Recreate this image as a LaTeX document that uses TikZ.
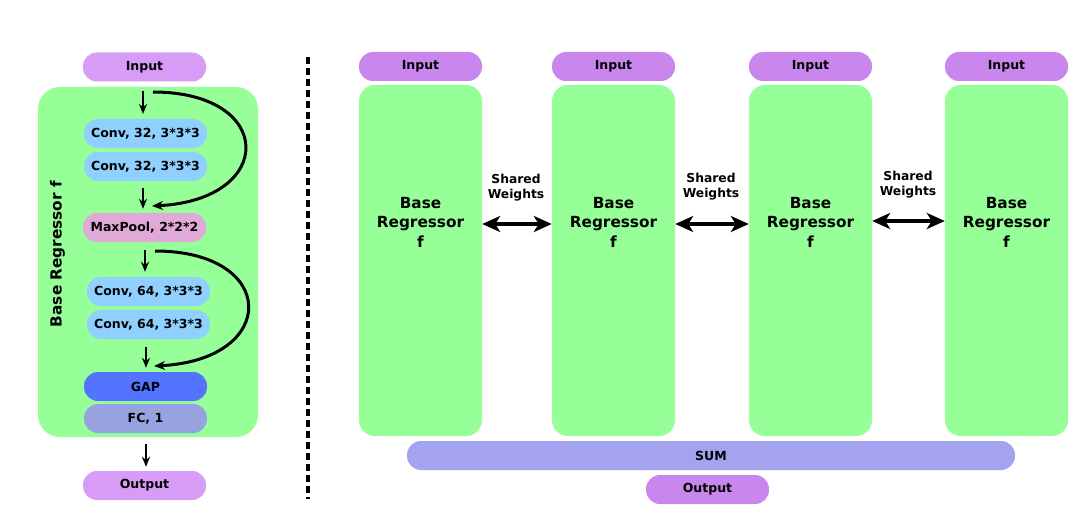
\documentclass[tikz,border=0pt]{standalone}
\usepackage{fontspec}
\setmainfont{DejaVu Sans}
\usetikzlibrary{arrows.meta}
\definecolor{inl}{RGB}{215,156,246}
\definecolor{inr}{RGB}{201,135,238}
\definecolor{grn}{RGB}{150,255,152}
\definecolor{cblue}{RGB}{143,208,255}
\definecolor{mpink}{RGB}{225,169,216}
\definecolor{gapc}{RGB}{82,116,255}
\definecolor{fcc}{RGB}{151,163,224}
\definecolor{sumc}{RGB}{163,163,240}
\tikzset{
  pill/.style={rectangle, rounded corners=14pt, minimum width=123pt, minimum height=29pt, inner sep=0pt,
    font=\fontsize{12.5}{14}\selectfont\bfseries},
  gbox/.style={rectangle, fill=grn, inner sep=0pt},
  small/.style={font=\fontsize{12.3}{14.8}\selectfont\bfseries, align=center, inner sep=0pt},
  big/.style={font=\fontsize{15.3}{19.5}\selectfont\bfseries, align=center, inner sep=0pt},
  arr/.style={-{Stealth[length=10pt,width=8pt]}, line width=2.5pt},
  carr/.style={-{Stealth[length=11pt,width=9pt]}, line width=3pt},
  darr/.style={{Stealth[length=18pt,width=16pt,inset=5pt]}-{Stealth[length=18pt,width=16pt,inset=5pt]}, line width=4.5pt},
}
\begin{document}
\begin{tikzpicture}[x=1pt,y=-1pt]
\useasboundingbox[fill=white] (0,0) rectangle (1080,527);

% ---------- left panel ----------
\node[pill, fill=inl] (inL) at (144.5,67) {Input};
\node[gbox, rounded corners=22pt, minimum width=220pt, minimum height=350pt] (gL) at (148,262) {};
\node[big, rotate=90] (lbl) at (57.5,254) {Base Regressor f};
\node[pill, fill=cblue] (c1) at (145.5,133.5) {Conv, 32, 3*3*3};
\node[pill, fill=cblue] (c2) at (145.5,166.5) {Conv, 32, 3*3*3};
\node[pill, fill=mpink] (mp) at (144.5,227.5) {MaxPool, 2*2*2};
\node[pill, fill=cblue] (c3) at (148.5,291.5) {Conv, 64, 3*3*3};
\node[pill, fill=cblue] (c4) at (148.5,324.5) {Conv, 64, 3*3*3};
\node[pill, fill=gapc] (gap) at (145.5,386.5) {GAP};
\node[pill, fill=fcc] (fc) at (145.5,418.5) {FC, 1};
\node[pill, fill=inl] (outL) at (144.5,485.5) {Output};

\coordinate (a1) at (143,91);  \coordinate (b1) at (143,114);
\draw[arr] (a1) -- (b1);
\draw[arr, shorten <=7pt, shorten >=4pt] (c2.south -| 143,0) -- (mp.north -| 143,0);
\draw[arr, shorten <=8pt, shorten >=5pt] (mp.south -| 145,0) -- (c3.north -| 145,0);
\draw[arr, shorten <=8pt, shorten >=4pt] (c4.south -| 146,0) -- (gap.north -| 146,0);
\draw[arr, shorten <=11pt, shorten >=4pt] (fc.south -| 146,0) -- (outL.north -| 146,0);

\coordinate (s1) at (153,92);  \coordinate (e1) at (152,206);
\draw[carr] (s1) .. controls (276,92) and (276,200) .. (e1);
\coordinate (s2) at (155,251); \coordinate (e2) at (154,366);
\draw[carr] (s2) .. controls (279,251) and (279,360) .. (e2);

% ---------- divider ----------
\coordinate (d1) at (308,57); \coordinate (d2) at (308,499);
\draw[line width=3.5pt, dash pattern=on 7pt off 4pt] (d1) -- (d2);

% ---------- right panel ----------
\foreach \i/\x in {1/420.5, 2/613.5, 3/810.5, 4/1006.5}{
  \node[pill, fill=inr] (in\i) at (\x,66.5) {Input};
  \node[gbox, rounded corners=16pt, minimum width=123pt, minimum height=351pt] (g\i) at (\x,260.5) {};
  \node[big] (t\i) at (\x,222) {Base\\Regressor\\f};
}
\node[small] (w1) at (516,188) {Shared\\Weights};
\node[small] (w2) at (711,187) {Shared\\Weights};
\node[small] (w3) at (908,185) {Shared\\Weights};
\draw[darr] ([yshift=36.5pt]g1.east) -- ([yshift=36.5pt]g2.west);
\draw[darr] ([yshift=36.5pt]g2.east) -- ([yshift=36.5pt]g3.west);
\draw[darr] ([yshift=39.5pt]g3.east) -- ([yshift=39.5pt]g4.west);

\node[pill, fill=sumc, minimum width=608pt] (sum) at (711,455.5) {SUM};
\node[pill, fill=inr] (outR) at (707.5,489.5) {Output};
\end{tikzpicture}
\end{document}
